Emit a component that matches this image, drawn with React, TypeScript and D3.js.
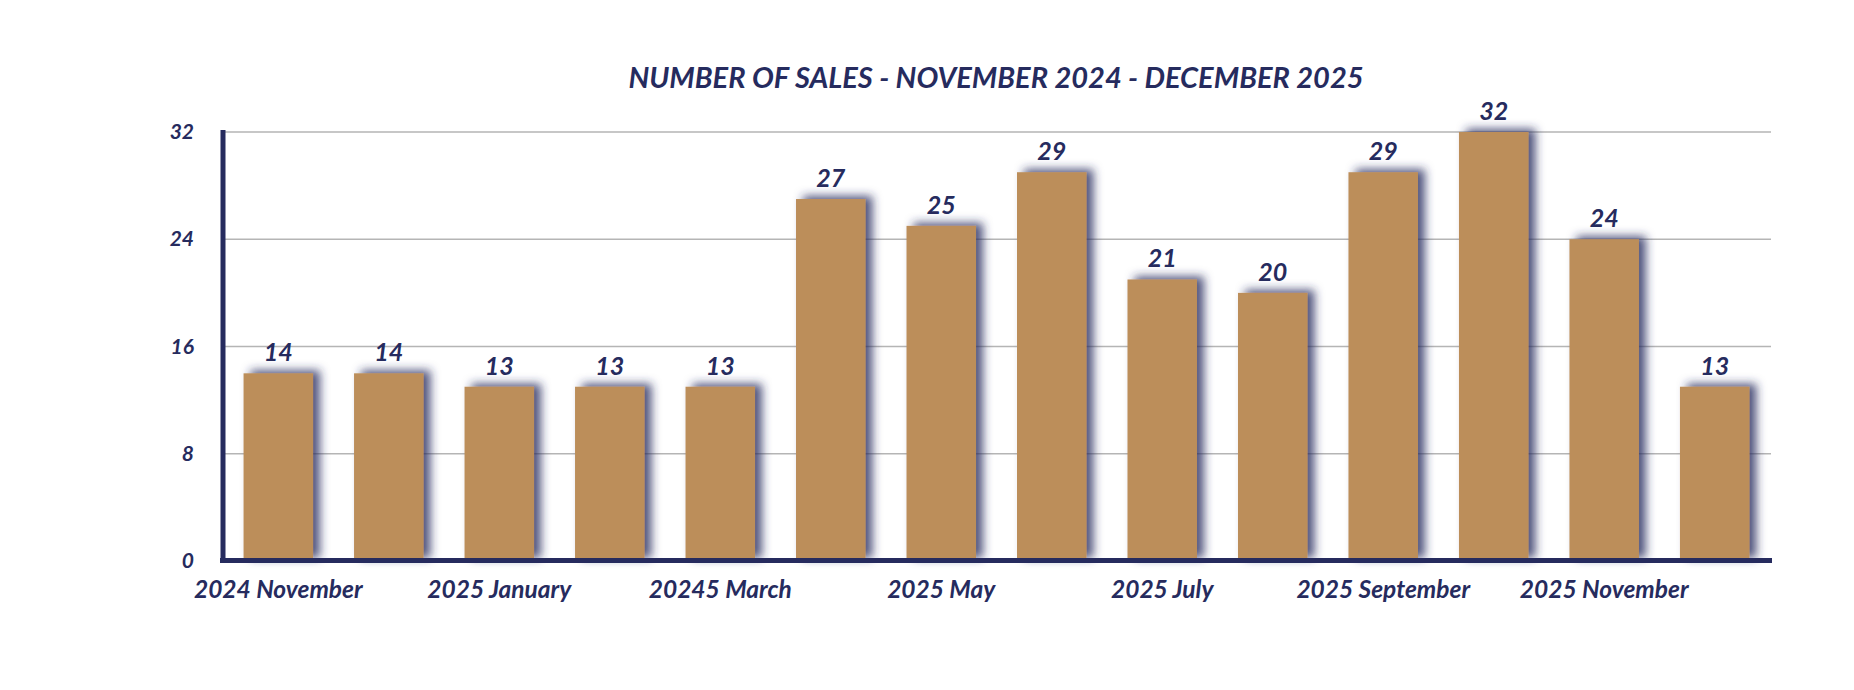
import React, { useEffect, useRef } from "react";
import * as d3 from "d3";

const categories = [
  "2024 November", "2024 December", "2025 January", "2025 February", "20245 March",
  "2025 April", "2025 May", "2025 June", "2025 July", "2025 August",
  "2025 September", "2025 October", "2025 November", "2025 December",
];
const sales = [14, 14, 13, 13, 13, 27, 25, 29, 21, 20, 29, 32, 24, 13];
const yTicks = [0, 8, 16, 24, 32];
const title = "NUMBER OF SALES - NOVEMBER 2024 - DECEMBER 2025";

const NAVY = "#262b5e";
const BAR = "#bc8e5a";
const FONT = "Lato, 'Open Sans', sans-serif";

export default function App() {
  const ref = useRef<SVGSVGElement | null>(null);
  useEffect(() => {
    const W = 1854, H = 690;
    const svg = d3.select(ref.current!);
    svg.selectAll("*").remove();
    svg.attr("width", W).attr("height", H);

    const left = 224, right = 1769, gridRight = 1771, top = 132, bottom = 561;
    const x = d3.scaleBand<string>().domain(categories).range([left, right]).paddingInner(0.371).paddingOuter(0.177);
    const y = d3.scaleLinear().domain([0, 32]).range([bottom, top]);

    const defs = svg.append("defs");
    const f = defs.append("filter").attr("id", "shadow").attr("x", "-30%").attr("y", "-30%").attr("width", "160%").attr("height", "160%");
    f.append("feGaussianBlur").attr("in", "SourceAlpha").attr("stdDeviation", 5).attr("result", "b");
    f.append("feOffset").attr("in", "b").attr("dx", 7).attr("dy", -3).attr("result", "o");
    f.append("feFlood").attr("flood-color", NAVY).attr("flood-opacity", 0.8).attr("result", "c");
    f.append("feComposite").attr("in", "c").attr("in2", "o").attr("operator", "in").attr("result", "s");
    const m = f.append("feMerge");
    m.append("feMergeNode").attr("in", "s");
    m.append("feMergeNode").attr("in", "SourceGraphic");

    // title
    svg.append("text").attr("x", 996).attr("y", 88).attr("text-anchor", "middle")
      .attr("font-family", FONT).attr("font-weight", 700).attr("font-style", "italic")
      .attr("font-size", 29).attr("fill", NAVY).text(title);

    // gridlines
    svg.append("g").selectAll("line").data(yTicks.filter(t => t > 0)).join("line")
      .attr("x1", left).attr("x2", gridRight).attr("y1", d => y(d)).attr("y2", d => y(d))
      .attr("stroke", "#b5b5b5").attr("stroke-width", 1.5);

    // y tick labels
    svg.append("g").selectAll("text").data(yTicks).join("text")
      .attr("x", 194).attr("y", d => y(d) + 7).attr("text-anchor", "end")
      .attr("font-family", FONT).attr("font-weight", 700).attr("font-style", "italic")
      .attr("font-size", 21).attr("fill", NAVY).text(d => String(d));

    // bars
    svg.append("g").selectAll("rect").data(sales).join("rect")
      .attr("x", (_, i) => x(categories[i])!).attr("width", x.bandwidth())
      .attr("y", d => y(d)).attr("height", d => y(0) - y(d))
      .attr("fill", BAR).attr("filter", "url(#shadow)");

    // value labels
    svg.append("g").selectAll("text").data(sales).join("text")
      .attr("x", (_, i) => x(categories[i])! + x.bandwidth() / 2).attr("y", d => y(d) - 12)
      .attr("text-anchor", "middle")
      .attr("font-family", FONT).attr("font-weight", 700).attr("font-style", "italic")
      .attr("font-size", 25).attr("fill", NAVY).text(d => String(d));

    // axes lines
    svg.append("line").attr("x1", 223).attr("x2", 223).attr("y1", top - 2).attr("y2", 563)
      .attr("stroke", NAVY).attr("stroke-width", 5);
    svg.append("line").attr("x1", 220).attr("x2", gridRight + 1).attr("y1", 560.5).attr("y2", 560.5)
      .attr("stroke", NAVY).attr("stroke-width", 5);

    // x labels (every other)
    svg.append("g").selectAll("text").data(categories.filter((_, i) => i % 2 === 0)).join("text")
      .attr("x", d => x(d)! + x.bandwidth() / 2).attr("y", 598).attr("text-anchor", "middle")
      .attr("font-family", FONT).attr("font-weight", 700).attr("font-style", "italic")
      .attr("font-size", 24.5).attr("fill", NAVY).text(d => d);
  }, []);
  return <svg ref={ref} style={{ display: "block", margin: "-8px" }} />;
}
